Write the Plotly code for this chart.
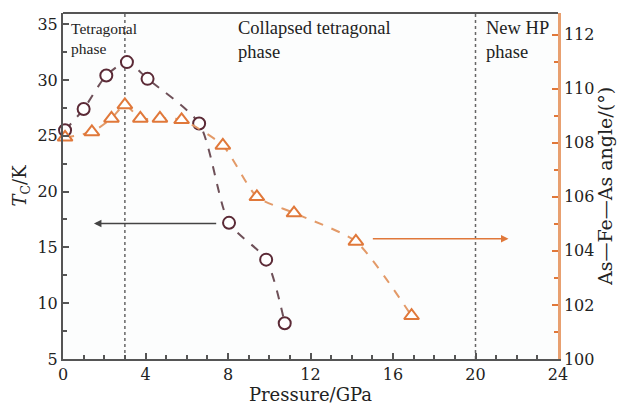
import plotly.graph_objects as go

# Data
p_tc = [0.1, 1.0, 2.1, 3.1, 4.1, 6.6, 8.05, 9.85, 10.75]
tc = [25.5, 27.4, 30.4, 31.6, 30.1, 26.1, 17.2, 13.9, 8.2]

p_ang = [0.1, 1.4, 2.35, 3.0, 3.75, 4.7, 5.75, 7.75, 9.4, 11.2, 14.2, 16.9]
ang = [108.2, 108.4, 108.9, 109.4, 108.9, 108.9, 108.85, 107.9, 106.0, 105.4, 104.35, 101.6]

x_ticks = [0, 4, 8, 12, 16, 20, 24]
yl_ticks = [5, 10, 15, 20, 25, 30, 35]
yr_ticks = [100, 102, 104, 106, 108, 110, 112]
phase_bounds = [3, 20]

MAROON = "#5b2a36"
MAROON_LINE = "#6e5058"
ORANGE = "#e0783a"
ORANGE_LINE = "#e39a68"
AXIS = "#555555"
FONT = "DejaVu Serif"
TFONT = "Liberation Serif"

fig = go.Figure()
fig.add_trace(go.Scatter(
    x=p_tc, y=tc, mode="lines+markers",
    line=dict(color=MAROON_LINE, dash="dash", width=2, shape="spline", smoothing=0.7),
    marker=dict(symbol="circle", size=12, color="white", line=dict(color=MAROON, width=2)),
    yaxis="y", showlegend=False, cliponaxis=False))
fig.add_trace(go.Scatter(
    x=p_ang, y=ang, mode="lines+markers",
    line=dict(color=ORANGE_LINE, dash="dash", width=2, shape="spline", smoothing=0.6),
    marker=dict(symbol="triangle-up", size=13, color="white", line=dict(color=ORANGE, width=2)),
    yaxis="y2", showlegend=False, cliponaxis=False))

for xb in phase_bounds:
    fig.add_shape(type="line", x0=xb, x1=xb, y0=0, y1=1, xref="x", yref="paper",
                  line=dict(color="#666666", width=1.5, dash="dot"), layer="below")

# arrows
fig.add_annotation(x=1.5, y=17.15, ax=7.5, ay=17.15, xref="x", yref="y", axref="x", ayref="y",
                   showarrow=True, arrowhead=2, arrowsize=1, arrowwidth=1.5, arrowcolor="#444444", text="")
fig.add_annotation(x=21.6, y=104.45, ax=14.95, ay=104.45, xref="x", yref="y2", axref="x", ayref="y2",
                   showarrow=True, arrowhead=2, arrowsize=1, arrowwidth=1.5, arrowcolor=ORANGE, text="")

# phase labels
fig.add_annotation(x=0.3, y=0.985, xref="x", yref="paper", xanchor="left", yanchor="top",
                   text="Tetragonal<br>phase", showarrow=False, align="left",
                   font=dict(family=TFONT, size=15.5, color="#222222"))
fig.add_annotation(x=8.4, y=0.99, xref="x", yref="paper", xanchor="left", yanchor="top",
                   text="Collapsed tetragonal<br>phase", showarrow=False, align="left",
                   font=dict(family=TFONT, size=18.5, color="#222222"))
fig.add_annotation(x=20.4, y=0.99, xref="x", yref="paper", xanchor="left", yanchor="top",
                   text="New HP<br>phase", showarrow=False, align="left",
                   font=dict(family=TFONT, size=18.5, color="#222222"))

fig.update_layout(
    width=622, height=405,
    margin=dict(l=63, r=64, t=13, b=46, autoexpand=False),
    paper_bgcolor="white", plot_bgcolor="#fcfdfd",
    font=dict(family=FONT, size=16, color="#222222"),
    xaxis=dict(range=[0, 24], tickvals=x_ticks, ticks="inside", ticklen=6, tickwidth=1.5,
               tickcolor=AXIS, showline=True, linecolor=AXIS, linewidth=2, mirror=False,
               showgrid=False, zeroline=False, tickfont=dict(size=16), ticklabelstandoff=0,
               automargin=False,
               minor=dict(dtick=1, ticks="inside", ticklen=4, tickcolor=AXIS, showgrid=False),
               title=dict(text="Pressure/GPa", standoff=4, font=dict(size=18))),
    yaxis=dict(range=[5, 36], tickvals=yl_ticks, ticks="inside", ticklen=6, tickwidth=1.5,
               tickcolor=AXIS, showline=True, linecolor=AXIS, linewidth=2,
               showgrid=False, zeroline=False, tickfont=dict(size=16), automargin=False,
               minor=dict(dtick=2.5, ticks="inside", ticklen=4, tickcolor=AXIS, showgrid=False),
               title=dict(text="<i>T</i><sub>C</sub>/K", standoff=6, font=dict(size=18))),
    yaxis2=dict(range=[100, 112.8], tickvals=yr_ticks, overlaying="y", side="right",
                ticks="inside", ticklen=6, tickwidth=1.5, tickcolor=ORANGE,
                showline=True, linecolor="#e8a070", linewidth=2.5, automargin=False,
                showgrid=False, zeroline=False, tickfont=dict(size=16),
                minor=dict(dtick=1, ticks="inside", ticklen=4, tickcolor=ORANGE, showgrid=False),
                title=dict(text="As—Fe—As angle/(°)", standoff=5, font=dict(size=19))),
)
# top border
fig.add_shape(type="line", x0=0, x1=1, y0=1, y1=1, xref="paper", yref="paper",
              line=dict(color=AXIS, width=2))

fig.write_html("out.html")
